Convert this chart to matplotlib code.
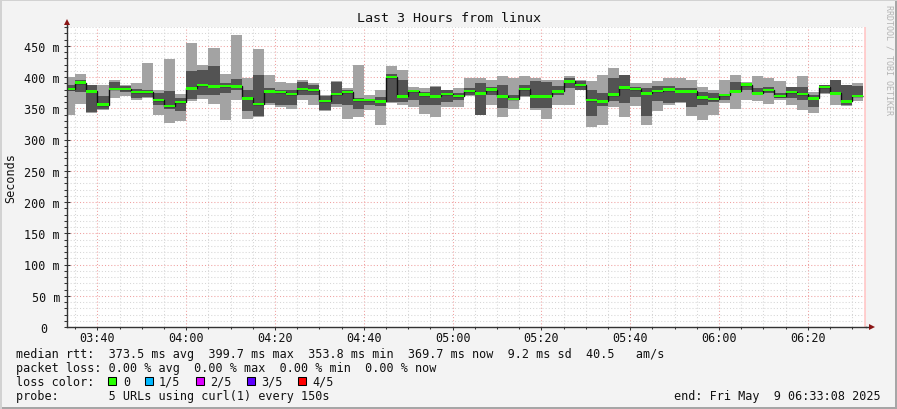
import numpy as np
import matplotlib
matplotlib.use("Agg")
import matplotlib.pyplot as plt
from matplotlib.ticker import MultipleLocator, FixedLocator
from matplotlib.patches import Rectangle

plt.rcParams['font.family'] = ['DejaVu Sans Mono', 'DejaVu Sans']

# ---------------- data ----------------
# time in minutes after midnight
first_start_min = 212.5      # 03:32:30 (first step start)
step_min = 2.5               # probe every 150 s
view_start = 213 + 8 / 60    # 03:33:08
view_end = 393 + 8 / 60      # 06:33:08

# rtt in ms (5 pings per step, sorted: min, p2, median, p4, max)
ping_max = [400, 405, 388, 388, 395, 387, 391, 423, 380, 429, 373, 455, 419, 446, 405, 468,
            398, 445, 403, 392, 391, 395, 391, 371, 393, 382, 420, 372, 379, 417, 411, 384,
            383, 386, 379, 382, 398, 398, 396, 402, 399, 402, 399, 396, 395, 402, 396, 393,
            403, 415, 404, 390, 390, 394, 399, 399, 395, 384, 380, 396, 404, 392, 402, 399,
            393, 384, 402, 376, 387, 395, 388, 391]
ping_p4 = [387, 395, 387, 369, 392, 386, 381, 380, 374, 377, 367, 409, 412, 417, 390, 397,
           380, 404, 383, 380, 380, 392, 387, 370, 392, 380, 366, 363, 368, 405, 395, 380,
           376, 384, 379, 374, 382, 390, 384, 388, 371, 388, 394, 392, 386, 398, 393, 380,
           374, 399, 403, 384, 382, 386, 386, 382, 382, 376, 375, 372, 392, 391, 382, 384,
           375, 384, 384, 371, 387, 395, 388, 386]
median = [381, 391, 377, 356, 381, 381, 376, 376, 363, 354, 360, 382, 387, 385, 386, 385,
          366, 357, 377, 376, 373, 381, 379, 362, 373, 376, 363, 363, 361, 400, 369, 378,
          372, 369, 373, 370, 378, 374, 380, 369, 365, 381, 369, 369, 377, 393, 387, 363,
          361, 372, 383, 381, 374, 378, 380, 377, 377, 367, 365, 371, 377, 388, 374, 379,
          370, 376, 373, 366, 384, 374, 361, 370]
ping_p2 = [377, 376, 344, 349, 379, 376, 367, 368, 355, 349, 345, 365, 371, 372, 375, 379,
           345, 337, 359, 355, 355, 371, 372, 347, 357, 355, 349, 355, 353, 360, 360, 364,
           355, 355, 360, 363, 371, 340, 371, 351, 363, 369, 351, 351, 371, 383, 380, 338,
           354, 361, 359, 368, 338, 362, 359, 360, 352, 356, 360, 364, 374, 379, 371, 374,
           366, 366, 364, 352, 374, 372, 356, 368]
ping_min = [340, 357, 342, 348, 366, 370, 364, 367, 340, 326, 329, 361, 365, 357, 332, 363,
            333, 336, 355, 352, 349, 364, 355, 346, 352, 333, 336, 348, 324, 359, 356, 352,
            341, 336, 352, 352, 370, 339, 356, 336, 349, 368, 348, 333, 356, 355, 379, 320,
            323, 352, 336, 354, 323, 346, 355, 359, 337, 332, 339, 359, 349, 364, 361, 357,
            363, 356, 347, 342, 373, 355, 353, 362]

xtick_pos = [220, 240, 260, 280, 300, 320, 340, 360, 380]
xtick_labels = ["03:40", "04:00", "04:20", "04:40", "05:00", "05:20", "05:40", "06:00", "06:20"]
ytick_vals = [0, 50, 100, 150, 200, 250, 300, 350, 400, 450]
ytick_labels = ["", "50 m", "100 m", "150 m", "200 m", "250 m", "300 m", "350 m", "400 m", "450 m"]

title = "Last 3 Hours from linux"
y_title = "Seconds"
legend_line1 = "median rtt:  373.5 ms avg  399.7 ms max  353.8 ms min  369.7 ms now  9.2 ms sd  40.5   am/s"
legend_line2 = "packet loss: 0.00 % avg  0.00 % max  0.00 % min  0.00 % now"
loss_labels = ["0", "1/5", "2/5", "3/5", "4/5"]
loss_colors = ["#26ff00", "#00b8ff", "#dd00ff", "#5e00ff", "#ff0000"]
probe_line = "probe:       5 URLs using curl(1) every 150s"
end_line = "end: Fri May  9 06:33:08 2025"

# ---------------- figure ----------------
W, H = 897, 410
fig = plt.figure(figsize=(W / 100, H / 100), dpi=100, facecolor="#f3f3f3")


def fx(px):
    return px / W


def fy(py):
    return 1 - py / H


ax = fig.add_axes([fx(67), fy(328), (866 - 67) / W, (328 - 28) / H])
ax.set_facecolor("white")

n = len(median)
starts = first_start_min + step_min * np.arange(n)
pmax = np.array(ping_max, float)
pp4 = np.array(ping_p4, float)
med = np.array(median, float)
pp2 = np.array(ping_p2, float)
pmin = np.array(ping_min, float)

ax.bar(starts, pmax - pmin, bottom=pmin, width=step_min, align="edge",
       color="#a3a3a3", linewidth=0, zorder=2)
ax.bar(starts, pp4 - pp2, bottom=pp2, width=step_min, align="edge",
       color="#535353", linewidth=0, zorder=3)
edges = np.append(starts, starts[-1] + step_min)
ax.stairs(med, edges, color="#101010", linewidth=1.0, zorder=4, baseline=None)
ax.bar(starts, 4.0, bottom=med - 2.0, width=step_min, align="edge",
       color="#26ff00", linewidth=0, zorder=5)

ax.set_xlim(view_start, view_end)
ax.set_ylim(0, 480)

# grid
ax.xaxis.set_major_locator(FixedLocator(xtick_pos))
ax.set_xticklabels(xtick_labels)
ax.xaxis.set_minor_locator(MultipleLocator(5))
ax.yaxis.set_major_locator(FixedLocator(ytick_vals))
ax.set_yticklabels(ytick_labels)
ax.yaxis.set_minor_locator(MultipleLocator(10))
ax.set_axisbelow(True)
ax.grid(which="minor", color="#d6d6d6", linestyle=(0, (1, 2)), linewidth=0.75, zorder=0)
ax.grid(which="major", color="#f0a0a0", linestyle=(0, (1, 2)), linewidth=0.75, zorder=1)

# end marker
ax.axvline(view_end - 0.33, color="#ffcccc", linewidth=2.0, zorder=1)

for s in ["top", "right"]:
    ax.spines[s].set_visible(False)
for s in ["left", "bottom"]:
    ax.spines[s].set_color("#333333")
    ax.spines[s].set_linewidth(1.0)
    ax.spines[s].set_zorder(6)

ax.tick_params(axis="both", which="both", colors="#333333", labelcolor="#111111",
               labelsize=8.5, width=0.75)
ax.tick_params(axis="y", which="major", direction="inout", length=4, pad=3.0)
ax.tick_params(axis="y", which="minor", direction="out", length=2)
ax.tick_params(axis="x", which="major", direction="out", length=2.5, pad=0.6)
ax.tick_params(axis="x", which="minor", direction="out", length=1.5)

# zero label (rrdtool prints it without unit)
ax.annotate("0", xy=(0, 0), xycoords=("axes fraction", "data"), xytext=(-20, 0),
            textcoords="offset pixels", ha="right", va="center_baseline",
            fontsize=8.5, color="#111111", annotation_clip=False)

# axis arrows
ax.plot([1.0, 1.0045], [0, 0], transform=ax.transAxes, color="#333333", lw=1.0,
        clip_on=False, zorder=6)
ax.plot([0, 0], [1.0, 1.012], transform=ax.transAxes, color="#333333", lw=1.0,
        clip_on=False, zorder=6)
ax.plot([1.0075], [0], marker=">", markersize=4.5, color="#8b1515", transform=ax.transAxes,
        clip_on=False, zorder=7, markeredgewidth=0)
ax.plot([0], [1.018], marker="^", markersize=4.5, color="#8b1515", transform=ax.transAxes,
        clip_on=False, zorder=7, markeredgewidth=0)

# vertical axis title
fig.text(fx(11), fy(178), y_title, rotation=90, ha="center", va="center",
         fontsize=8.5, color="#111111")

# title
fig.text(fx(448.5), fy(19), title, ha="center", va="center", fontsize=9.6, color="#111111")

# watermark
fig.text(fx(888.5), fy(60), "RRDTOOL / TOBI OETIKER", rotation=270, ha="center", va="center",
         fontsize=6.0, color="#b4b4b4")

# legend lines
fig.text(fx(16), fy(358), legend_line1, ha="left", va="baseline", fontsize=8.5, color="#111111")
fig.text(fx(16), fy(372), legend_line2, ha="left", va="baseline", fontsize=8.5, color="#111111")
fig.text(fx(16), fy(386), "loss color:", ha="left", va="baseline", fontsize=8.5, color="#111111")
sq_x = [108, 145, 196, 247, 298]
tx_x = [123, 159, 210, 261, 312]
for sx, tx, lab, col in zip(sq_x, tx_x, loss_labels, loss_colors):
    fig.patches.append(Rectangle((fx(sx), fy(386)), 8 / W, 8 / H, transform=fig.transFigure,
                                 facecolor=col, edgecolor="black", linewidth=0.75))
    fig.text(fx(tx), fy(386), lab, ha="left", va="baseline", fontsize=8.5, color="#111111")
fig.text(fx(16), fy(400), probe_line, ha="left", va="baseline", fontsize=8.5, color="#111111")
fig.text(fx(881), fy(400), end_line, ha="right", va="baseline", fontsize=8.5, color="#111111")

# frame of the image
fig.patches.append(Rectangle((0, 0), 1, 2 / H, transform=fig.transFigure, facecolor="#a6a6a6", lw=0))
fig.patches.append(Rectangle((1 - 2 / W, 0), 2 / W, 1, transform=fig.transFigure, facecolor="#a6a6a6", lw=0))
fig.patches.append(Rectangle((0, 1 - 2 / H), 1, 2 / H, transform=fig.transFigure, facecolor="#d2d2d2", lw=0))
fig.patches.append(Rectangle((0, 0), 2 / W, 1, transform=fig.transFigure, facecolor="#d2d2d2", lw=0))

fig.savefig("out.png", dpi=100, facecolor=fig.get_facecolor())
